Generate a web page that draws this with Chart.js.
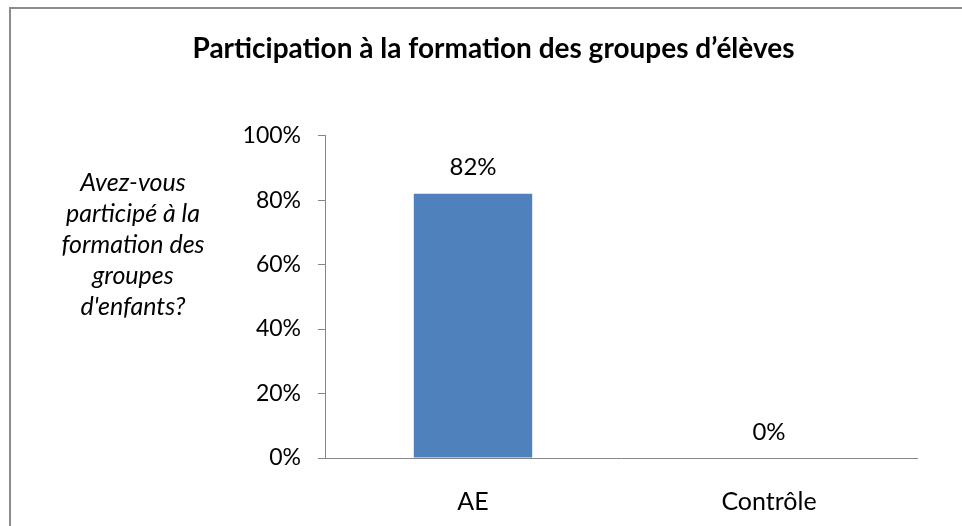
<!DOCTYPE html>
<html>
<head>
<meta charset="utf-8">
<script src="https://cdn.jsdelivr.net/npm/chart.js@4/dist/chart.umd.min.js"></script>
<style>
  html, body { margin: 0; padding: 0; background: #fff; }
  #wrap { position: relative; width: 962px; height: 526px; overflow: hidden; }
  #frame { position: absolute; left: 9px; top: 7px; width: 1000px; height: 600px;
           border-left: 2px solid #8c8c8c; border-top: 2px solid #8c8c8c; box-sizing: border-box; }
  canvas { position: absolute; left: 0; top: 0; }
</style>
</head>
<body>
<div id="wrap">
  <div id="frame"></div>
  <canvas id="c" width="962" height="526"></canvas>
</div>
<script>
const chartTitle = "Participation à la formation des groupes d\u2019élèves";
const categories = ["AE", "Contrôle"];
const values = [82, 0];
const yAxisTitleLines = ["Avez-vous", "participé à la", "formation des", "groupes", "d'enfants?"];
const yMin = 0, yMax = 100, yStep = 20;

const FONT = "Lato, 'Open Sans', sans-serif";

const valueLabels = {
  id: 'valueLabels',
  afterDatasetsDraw(chart) {
    const ctx = chart.ctx;
    const meta = chart.getDatasetMeta(0);
    ctx.save();
    ctx.font = "24px " + FONT;
    ctx.fillStyle = "#000";
    ctx.textAlign = "center";
    ctx.textBaseline = "middle";
    meta.data.forEach((bar, i) => {
      ctx.fillText(values[i] + "%", bar.x, bar.y - 26);
    });
    ctx.restore();
  }
};

const yTitle = {
  id: 'yTitle',
  afterDraw(chart) {
    const ctx = chart.ctx;
    ctx.save();
    ctx.font = "italic 25px " + FONT;
    ctx.fillStyle = "#000";
    ctx.textAlign = "center";
    ctx.textBaseline = "middle";
    const y0 = chart.chartArea.top + 47;
    yAxisTitleLines.forEach((t, i) => ctx.fillText(t, 133, y0 + i * 31));
    ctx.restore();
  }
};

new Chart(document.getElementById('c'), {
  type: 'bar',
  data: {
    labels: categories,
    datasets: [{
      data: values,
      backgroundColor: '#4F81BD',
      borderWidth: 0,
      categoryPercentage: 1.0,
      barPercentage: 0.4
    }]
  },
  options: {
    responsive: false,
    devicePixelRatio: 1,
    animation: false,
    layout: { padding: { left: 70, right: 45, top: 0, bottom: 0 } },
    plugins: {
      legend: { display: false },
      tooltip: { enabled: false },
      title: {
        display: true,
        text: chartTitle,
        color: '#000',
        font: { family: FONT, size: 28, weight: 'bold' },
        padding: { top: 32, bottom: 70 }
      }
    },
    scales: {
      x: {
        grid: { display: false },
        border: { display: true, color: '#868686', width: 1 },
        ticks: { color: '#000', font: { family: FONT, size: 25 }, padding: 21 },
        afterFit(scale) { scale.height = 68; }
      },
      y: {
        min: yMin, max: yMax,
        grid: { drawOnChartArea: false, drawTicks: true, tickLength: 7, color: '#868686' },
        border: { display: true, color: '#868686', width: 1 },
        ticks: {
          stepSize: yStep,
          color: '#000',
          font: { family: FONT, size: 23 },
          padding: 17,
          callback: v => v + '%'
        },
        afterFit(scale) { scale.width = 255; }
      }
    }
  },
  plugins: [valueLabels, yTitle]
});
</script>
</body>
</html>
